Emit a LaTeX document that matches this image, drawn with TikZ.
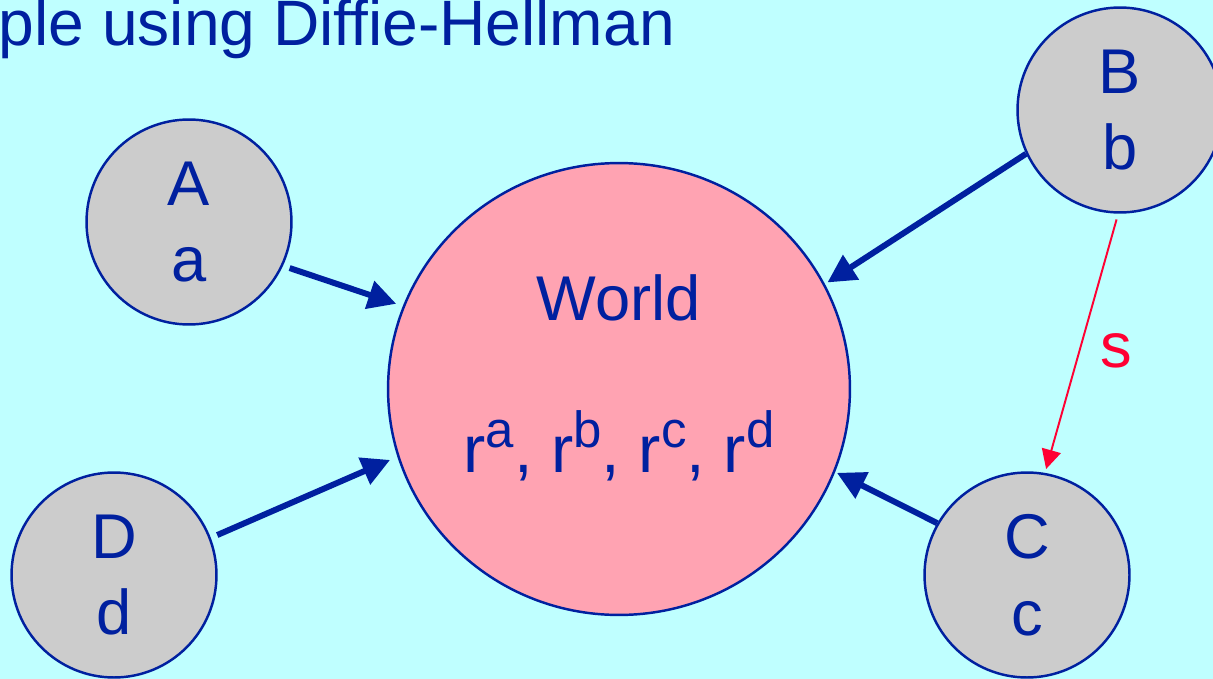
\documentclass[tikz,border=0pt]{standalone}
\usepackage{fontspec}
\setmainfont{Liberation Sans}
\usetikzlibrary{shapes.geometric, arrows.meta}
\definecolor{slidebg}{HTML}{BFFFFF}
\definecolor{ink}{HTML}{00209F}
\definecolor{partyfill}{HTML}{CCCCCC}
\definecolor{worldfill}{HTML}{FFA3B2}
\definecolor{secret}{HTML}{FF0033}
\newcommand{\pw}[1]{\raisebox{14pt}{\fontsize{29}{32}\selectfont #1}}

\begin{document}
\begin{tikzpicture}[x=0.02cm, y=-0.02cm,
    every node/.style={text=ink, font=\fontsize{36}{43.7}\selectfont},
    party/.style={circle, draw=ink, line width=1.4pt, fill=partyfill,
                  minimum size=4.1cm, inner sep=0pt, align=center},
    world/.style={ellipse, draw=ink, line width=1.4pt, fill=worldfill,
                  minimum width=9.24cm, minimum height=9.04cm, inner sep=0pt},
    arr/.style={-{Triangle[length=16pt, width=16pt]}, line width=3.4pt, draw=ink},
    key/.style={-{Triangle[length=11pt, width=11pt]}, line width=1.1pt, draw=secret}
]
    \fill[slidebg] (0,0) rectangle (1213,679);
    \useasboundingbox (0,0) rectangle (1213,679);
    \node[anchor=base east, font=\fontsize{36.5}{43}\selectfont] (title) at (681,46) {ple using Diffie-Hellman};
    \node[world] (World) at (619,389) {};
    \node[anchor=base] (worldname) at (619,320) {World};
    \node[anchor=base, font=\fontsize{38}{44}\selectfont] (powers) at (619,472) {r\pw{a}, r\pw{b}, r\pw{c}, r\pw{d}};
    \node[party] (A) at (189,222) {A\\a};
    \node[party] (B) at (1120,110) {B\\b};
    \node[party] (C) at (1027,575) {C\\c};
    \node[party] (D) at (114,575) {D\\d};
    \draw[arr, shorten <=0.14cm, shorten >=0.14cm] (A.-25) -- (World.159);
    \draw[arr, shorten <=0.14cm, shorten >=0.16cm] (D.21) -- (World.197);
    \draw[arr, shorten >=0.06cm] (B.205) -- (World.27);
    \draw[arr, shorten >=0.04cm] (C.150) -- (World.-21);
    \draw[key, shorten <=0.12cm, shorten >=0.08cm] (B.-91) -- node[right=0.25cm, yshift=-0.16cm, text=secret] (s) {s} (C.80);
\end{tikzpicture}
\end{document}
